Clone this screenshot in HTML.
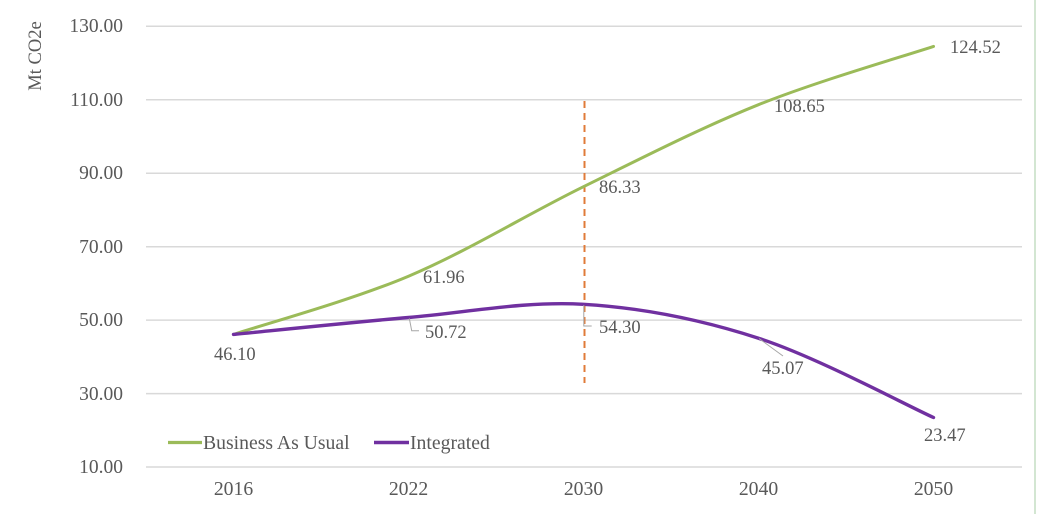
<!DOCTYPE html>
<html><head><meta charset="utf-8"><style>
html,body{margin:0;padding:0;background:#fff;}
svg{display:block;}
text{font-family:"Liberation Serif","Times New Roman",serif;fill:#595959;font-size:18.5px;}
.t{font-size:19.5px;}
.lg{font-size:19.7px;}
</style></head><body>
<svg width="1039" height="514" viewBox="0 0 1039 514" xmlns="http://www.w3.org/2000/svg">
<rect x="0" y="0" width="1039" height="514" fill="#fff"/>
<line x1="1035" y1="0" x2="1035" y2="514" stroke="#d3e6d2" stroke-width="2"/>
<g stroke="#d9d9d9" stroke-width="1.5">
<line x1="146" y1="26.3" x2="1022" y2="26.3"/>
<line x1="146" y1="99.8" x2="1022" y2="99.8"/>
<line x1="146" y1="173.2" x2="1022" y2="173.2"/>
<line x1="146" y1="246.7" x2="1022" y2="246.7"/>
<line x1="146" y1="320.1" x2="1022" y2="320.1"/>
<line x1="146" y1="393.6" x2="1022" y2="393.6"/>
<line x1="146" y1="467" x2="1022" y2="467"/>
</g>
<g text-anchor="end" class="t">
<text class="t" x="123" y="32">130.00</text>
<text class="t" x="123" y="106">110.00</text>
<text class="t" x="123" y="179">90.00</text>
<text class="t" x="123" y="253">70.00</text>
<text class="t" x="123" y="326">50.00</text>
<text class="t" x="123" y="400">30.00</text>
<text class="t" x="123" y="473">10.00</text>
</g>
<text transform="translate(41,56) rotate(-90)" text-anchor="middle">Mt CO2e</text>
<g text-anchor="middle">
<text class="lg" x="233.5" y="495">2016</text>
<text class="lg" x="408.5" y="495">2022</text>
<text class="lg" x="583.5" y="495">2030</text>
<text class="lg" x="758.5" y="495">2040</text>
<text class="lg" x="933.5" y="495">2050</text>
</g>
<line x1="584.5" y1="101" x2="584.5" y2="383" stroke="#e07b39" stroke-width="2" stroke-dasharray="7,5"/>
<path d="M233.5,334.4 C262.7,324.7 350.2,300.8 408.5,276.2 C466.8,251.6 525.2,215.3 583.5,186.7 C641.8,158.1 700.2,128.1 758.5,104.7 C816.8,81.3 904.3,56.1 933.5,46.4" fill="none" stroke="#9bbb59" stroke-width="3" stroke-linecap="round"/>
<path d="M233.5,334.4 C262.7,331.6 350.2,322.5 408.5,317.5 C466.8,312.5 525.2,300.85 583.5,304.3 C641.8,307.75 700.2,319.3 758.5,338.2 C816.8,357.1 904.3,404.3 933.5,417.5" fill="none" stroke="#7030a0" stroke-width="3.4" stroke-linecap="round"/>
<g stroke="#a6a6a6" stroke-width="1" fill="none">
<polyline points="409.3,318.3 411.7,330.7 419,330.7"/>
<polyline points="583.8,305 583.8,326 591.7,326"/>
<line x1="759" y1="338.5" x2="783" y2="356"/>
</g>
<text x="214" y="360">46.10</text>
<text x="423" y="283">61.96</text>
<text x="425" y="338">50.72</text>
<text x="599" y="193">86.33</text>
<text x="599" y="333">54.30</text>
<text x="774" y="112">108.65</text>
<text x="762" y="374">45.07</text>
<text x="950" y="53">124.52</text>
<text x="924" y="441">23.47</text>
<line x1="168" y1="442.5" x2="202" y2="442.5" stroke="#9bbb59" stroke-width="3.2"/>
<text class="lg" x="203" y="449">Business As Usual</text>
<line x1="374" y1="442.5" x2="409" y2="442.5" stroke="#7030a0" stroke-width="3.4"/>
<text class="lg" x="410" y="449">Integrated</text>
</svg>
</body></html>
